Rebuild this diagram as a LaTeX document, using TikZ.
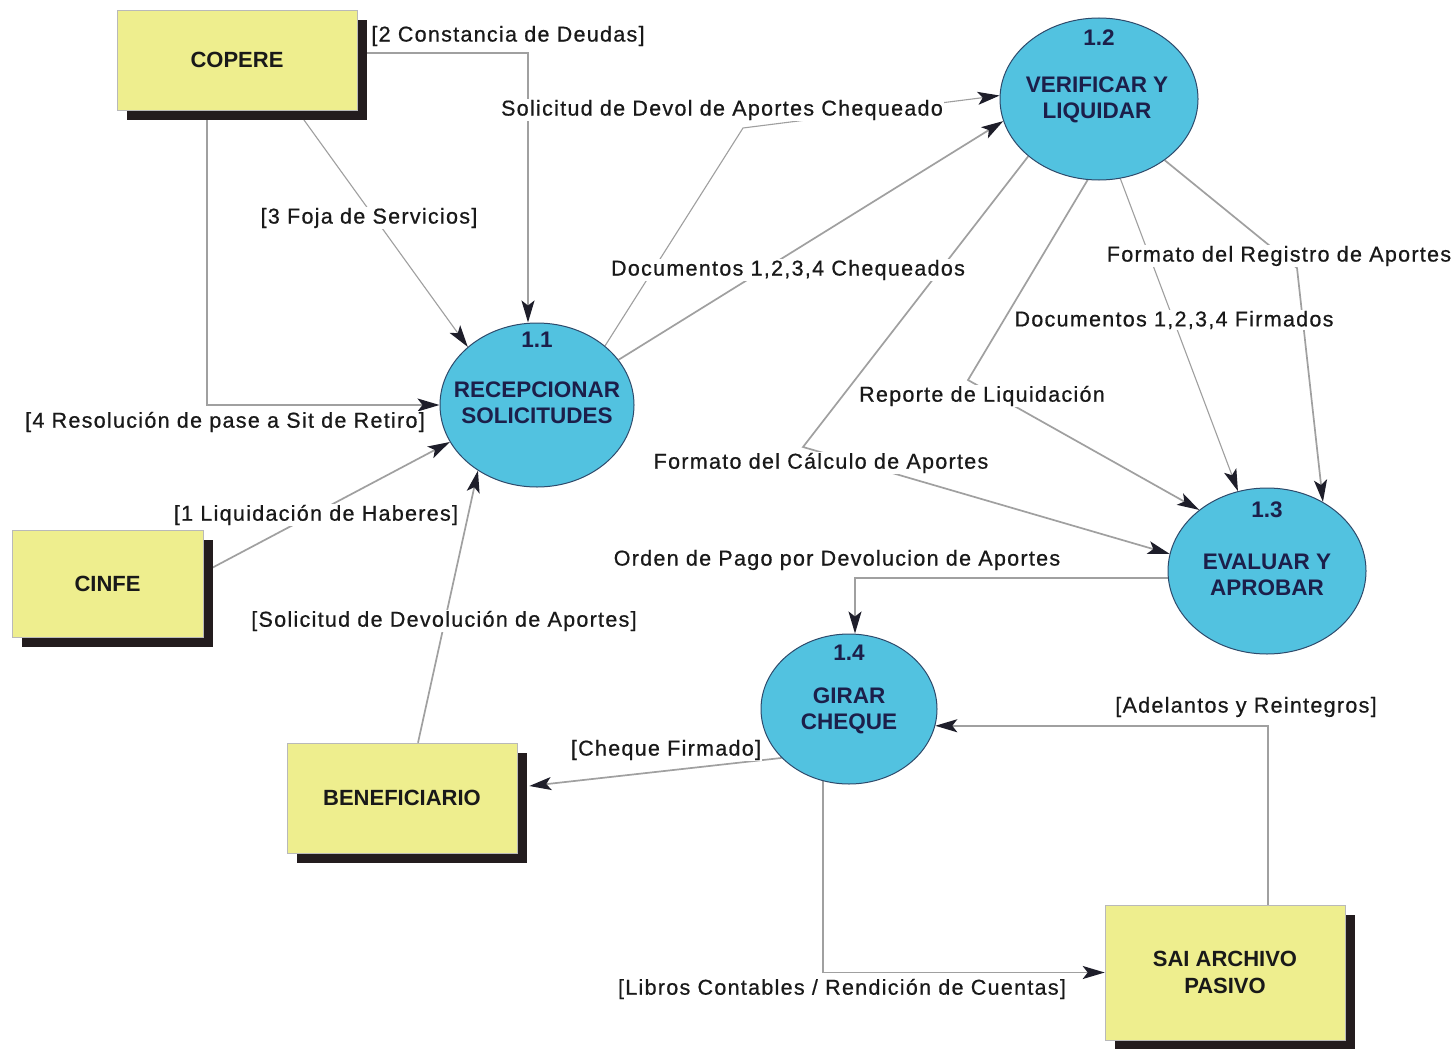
\documentclass[tikz,border=0pt]{standalone}
\usepackage{fontspec}
\setmainfont{Liberation Sans}
\newfontfamily\lblfont[LetterSpace=6,FakeBold=0.7]{Liberation Sans}
\usetikzlibrary{arrows.meta,shapes.geometric,shadows}

\definecolor{boxyellow}{HTML}{EEEE8E}
\definecolor{shadowc}{HTML}{231C1E}
\definecolor{proccyan}{HTML}{52C2E0}
\definecolor{procedge}{HTML}{2E4A6B}
\definecolor{procink}{HTML}{1C1F4A}
\definecolor{flowgrey}{HTML}{A0A0A0}
\definecolor{tipc}{HTML}{1E1E2A}

\pgfdeclarelayer{flows}
\pgfdeclarelayer{labels}
\pgfsetlayers{flows,main,labels}

\tikzset{
  store/.style={draw=gray!55, line width=0.6pt, fill=boxyellow, inner sep=0pt,
    font=\bfseries\fontsize{22}{27}\selectfont, text=black!90, align=center,
    drop shadow={shadow xshift=10pt, shadow yshift=-10pt, fill=shadowc, opacity=1}},
  proc/.style={ellipse, draw=procedge, line width=1pt, fill=proccyan, inner sep=0pt},
  ptext/.style={font=\bfseries\fontsize{22.5}{26}\selectfont, text=procink, align=center, inner sep=0pt},
  flow/.style={draw=flowgrey, line width=1.7pt, -{Stealth[length=22pt,width=13pt,inset=5pt,color=tipc]}},
  thinflow/.style={flow, line width=1.1pt, draw=gray!75},
  lbl/.style={font=\lblfont\fontsize{21.5}{25}\selectfont, text=black!90, fill=white, inner sep=1pt},
}

\begin{document}
\begin{tikzpicture}[x=1pt, y=-1pt]
\useasboundingbox (0,0) rectangle (1456,1049);

% external entities
\node[store, minimum width=240pt, minimum height=100pt] (copere) at (237,60) {COPERE};
\node[store, minimum width=191pt, minimum height=107pt] (cinfe) at (107.5,583.5) {CINFE};
\node[store, minimum width=230pt, minimum height=110pt] (benef) at (402,798) {BENEFICIARIO};
\node[store, minimum width=240pt, minimum height=135pt] (sai) at (1225,972.5) {SAI ARCHIVO\\PASIVO};

% processes
\node[proc, minimum width=194pt, minimum height=164pt] (c11) at (537,405) {};
\node[proc, minimum width=198pt, minimum height=162pt] (c12) at (1099,99) {};
\node[proc, minimum width=198pt, minimum height=166pt] (c13) at (1267,571) {};
\node[proc, minimum width=176pt, minimum height=150pt] (c14) at (849,709) {};

\node[ptext] (c11n) at (537,340) {1.1};
\node[ptext] (c11t) at (537,403) {RECEPCIONAR\\SOLICITUDES};
\node[ptext] (c12n) at (1099,38) {1.2};
\node[ptext] (c12t) at (1097,100) {VERIFICAR Y\\LIQUIDAR};
\node[ptext] (c13n) at (1267,510) {1.3};
\node[ptext] (c13t) at (1267,575) {EVALUAR Y\\APROBAR};
\node[ptext] (c14n) at (849,653) {1.4};
\node[ptext] (c14t) at (849,711) {GIRAR\\CHEQUE};

% data flows, drawn beneath the shapes
\begin{pgfonlayer}{flows}
\fill[white] (0,0) rectangle (1456,1049);
\draw[flow] ([yshift=7pt]copere.east) -| ([xshift=-9pt]c11.north);
\draw[thinflow] ([xshift=60pt]copere.south) -- (c11.140);
\draw[flow] ([xshift=-30pt]copere.south) |- (c11.west);
\draw[flow] ([yshift=11pt]cinfe.east) -- (c11.203);
\draw[flow] ([xshift=16pt]benef.north) -- (c11.228);
\coordinate (k6) at (743,128);
\draw[thinflow] (c11.41) -- (k6) -- (c12.178);
\draw[flow] (c11.29) -- (c12.193);
\coordinate (k8) at (803,447);
\draw[flow] (c12.219) -- (k8) -- (c13.170);
\coordinate (k9) at (968,380);
\draw[flow] (c12.262) -- (k9) -- (c13.138);
\draw[thinflow] (c12.285) -- (c13.110);
\coordinate (k11) at (1297,268);
\draw[flow] (c12.317) -- (k11) -- (c13.51);
\draw[flow] ([yshift=-7pt]c13.west) -| ([xshift=6pt]c14.north);
\draw[flow] ([xshift=43pt]sai.north) |- (c14.349);
\draw[flow] (c14.216) -- ([xshift=12pt,yshift=12pt]benef.east);
\draw[flow] (c14.250) |- (sai.west);
\end{pgfonlayer}

% flow labels
\begin{pgfonlayer}{labels}
\node[lbl] (l2) at (508,36) {[2 Constancia de Deudas]};
\node[lbl] (l3) at (369,218) {[3 Foja de Servicios]};
\node[lbl] (l4) at (225,422) {[4 Resolución de pase a Sit de Retiro]};
\node[lbl] (l1) at (316,515) {[1 Liquidación de Haberes]};
\node[lbl] (lsd) at (444,621) {[Solicitud de Devolución de Aportes]};
\node[lbl] (lsc) at (722,110) {Solicitud de Devol de Aportes Chequeado};
\node[lbl] (ldc) at (788,270) {Documentos 1,2,3,4 Chequeados};
\node[lbl] (lfr) at (1279,256) {Formato del Registro de Aportes};
\node[lbl] (ldf) at (1174,320) {Documentos 1,2,3,4 Firmados};
\node[lbl] (lrl) at (982,396) {Reporte de Liquidación};
\node[lbl] (lfc) at (821,463) {Formato del Cálculo de Aportes};
\node[lbl] (lop) at (837,560) {Orden de Pago por Devolucion de Aportes};
\node[lbl] (lar) at (1246,707) {[Adelantos y Reintegros]};
\node[lbl] (lcf) at (666,750) {[Cheque Firmado]};
\node[lbl] (llc) at (842,989) {[Libros Contables / Rendición de Cuentas]};
\end{pgfonlayer}
\end{tikzpicture}
\end{document}
